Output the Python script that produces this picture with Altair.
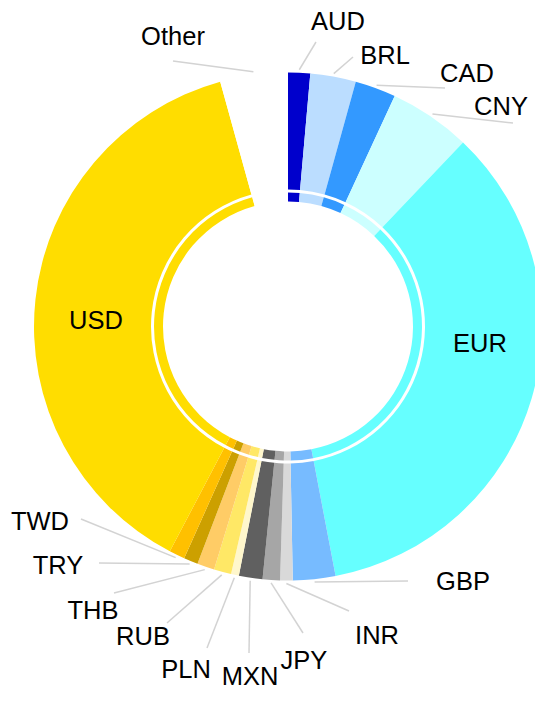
import math
import altair as alt
import pandas as pd

# ---- data ----
currencies = ["AUD", "BRL", "CAD", "CNY", "EUR", "GBP", "INR", "JPY",
              "MXN", "PLN", "RUB", "THB", "TRY", "TWD", "USD", "Other"]
shares = [1.4, 2.9, 2.6, 5.2, 34.9, 2.7, 0.8, 1.1,
          1.5, 0.5, 1.1, 1.1, 0.9, 1.0, 38.0, 4.3]
colors = ["#0000CC", "#BBDDFF", "#3399FF", "#CCFFFF", "#66FFFF", "#77BBFF",
          "#D9D9D9", "#A6A6A6", "#606060", "#FFF7CC", "#FFE866", "#FFCC66",
          "#CCA000", "#FFC000", "#FFDD00", "#FFFFFF"]

# ---- label layout (annotation placement, view pixels) ----
label_x = [330, 377, 459, 493, 472, 455, 369, 296, 242, 178, 135, 85, 50, 32, 88, 165]
label_y = [14, 48, 66, 99, 336, 574, 628, 653, 669, 662, 629, 603, 558, 514, 313, 29]
line_end_x = [308, 345, 437, 505, None, 400, 341, 295, 241, 199, 159, 106, 91, 73, None, 165]
line_end_y = [34, 49, 80, 115, None, 573, 603, 625, 645, 640, 615, 585, 555, 511, None, 53]

CX, CY = 280, 318.5
R_OUT, R_IN = 254, 137
RING_OUT, RING_IN = 134, 125
R_LINE = 257

df = pd.DataFrame({
    "idx": list(range(len(currencies))),
    "currency": currencies,
    "share": shares,
    "color": colors,
    "tx": label_x,
    "ty": label_y,
    "ex": line_end_x,
    "ey": line_end_y,
})

base = alt.Chart(df)

theta = alt.Theta("share:Q", stack=True)
order = alt.Order("idx:Q", sort="ascending")
color = alt.Color("color:N", scale=None, legend=None)

outer = base.mark_arc(outerRadius=R_OUT, innerRadius=R_IN, x=CX, y=CY).encode(
    theta=theta, order=order, color=color
)
ring = base.mark_arc(outerRadius=RING_OUT, innerRadius=RING_IN, x=CX, y=CY).encode(
    theta=theta, order=order, color=color
)

lines = base.transform_window(
    cum="sum(share)", sort=[alt.SortField("idx")]
).transform_joinaggregate(
    total="sum(share)"
).transform_calculate(
    mid="(datum.cum - datum.share / 2) / datum.total * 2 * PI",
).transform_calculate(
    sx=f"{CX} + {R_LINE} * sin(datum.mid)",
    sy=f"{CY} - {R_LINE} * cos(datum.mid)",
).transform_filter(
    "isValid(datum.ex) && datum.ex !== null"
).mark_rule(color="#D3D3D3", strokeWidth=1.5).encode(
    x=alt.X("sx:Q", scale=None, axis=None),
    y=alt.Y("sy:Q", scale=None, axis=None),
    x2="ex:Q",
    y2="ey:Q",
)

labels = base.mark_text(
    font="Liberation Sans", fontSize=25.5, color="#000000",
    align="center", baseline="middle"
).encode(
    x=alt.X("tx:Q", scale=None, axis=None),
    y=alt.Y("ty:Q", scale=None, axis=None),
    text="currency:N",
)

chart = alt.layer(outer, ring, lines, labels).properties(
    width=527, height=684,
    autosize=alt.AutoSizeParams(type="none"),
    padding=0,
).configure_view(stroke=None)

chart.save("out.html", embed_options={"renderer": "svg", "actions": False})
